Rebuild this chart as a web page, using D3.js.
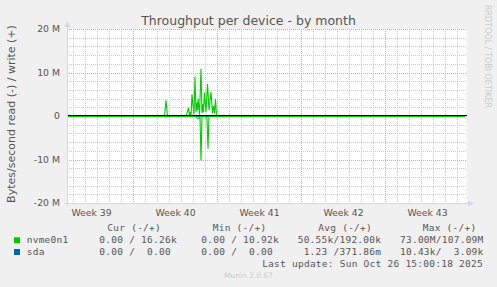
<!DOCTYPE html>
<html>
<head>
<meta charset="utf-8">
<script src="https://cdn.jsdelivr.net/npm/d3@7"></script>
<style>
  html, body { margin: 0; padding: 0; background: #f0f0f0; }
  svg text { font-family: "DejaVu Sans", sans-serif; fill: #555; }
  .mono { font-family: "DejaVu Sans Mono", monospace; font-size: 9.5px; letter-spacing: 0.25px; white-space: pre; }
</style>
</head>
<body>
<div id="chart"></div>
<script>
// ---- data ----
const titleText = "Throughput per device - by month";
const yLabelText = "Bytes/second read (-) / write (+)";
const timeStart = "2025-09-23T12:00:00Z";
const timeEnd = "2025-10-26T20:00:00Z";

const yTicks = [-20e6, -10e6, 0, 10e6, 20e6];
const yTickLabels = ["-20 M", "-10 M", "0", "10 M", "20 M"];
const weekCenters = ["2025-09-25T12:00:00Z", "2025-10-02T12:00:00Z", "2025-10-09T12:00:00Z",
                     "2025-10-16T12:00:00Z", "2025-10-23T12:00:00Z"];
const weekLabels = ["Week 39", "Week 40", "Week 41", "Week 42", "Week 43"];

// nvme0n1 write (+), bytes/s
const nvmeWriteTimes = [
  "2025-09-23T12:00:00Z", "2025-10-01T12:00:00Z", "2025-10-01T15:00:00Z", "2025-10-01T18:00:00Z",
  "2025-10-01T21:00:00Z", "2025-10-03T10:00:00Z", "2025-10-03T15:00:00Z", "2025-10-03T17:00:00Z",
  "2025-10-03T18:00:00Z", "2025-10-03T20:00:00Z", "2025-10-03T22:00:00Z", "2025-10-04T00:00:00Z",
  "2025-10-04T02:00:00Z", "2025-10-04T04:00:00Z", "2025-10-04T06:00:00Z", "2025-10-04T08:00:00Z",
  "2025-10-04T09:00:00Z", "2025-10-04T10:00:00Z", "2025-10-04T13:00:00Z", "2025-10-04T16:00:00Z",
  "2025-10-04T18:00:00Z", "2025-10-04T20:00:00Z", "2025-10-04T21:00:00Z", "2025-10-04T23:00:00Z",
  "2025-10-05T02:00:00Z", "2025-10-05T05:00:00Z", "2025-10-05T08:00:00Z", "2025-10-05T12:00:00Z",
  "2025-10-05T15:00:00Z", "2025-10-05T17:00:00Z", "2025-10-05T19:00:00Z", "2025-10-05T21:00:00Z",
  "2025-10-05T23:00:00Z", "2025-10-06T02:00:00Z", "2025-10-26T15:00:00Z"
];
const nvmeWriteValues = [
  20e3, 20e3, 0.1e6, 3.7e6,
  0.05e6, 20e3, 2.0e6, 0.3e6,
  1.0e6, 0.2e6, 5.1e6, 2.5e6,
  0.5e6, 9.1e6, 1.0e6, 3.2e6,
  1.5e6, 4.1e6, 0.4e6, 11.0e6,
  0.8e6, 2.8e6, 1.0e6, 5.5e6,
  1.0e6, 7.5e6, 1.5e6, 5.6e6,
  0.8e6, 2.4e6, 0.8e6, 4.1e6,
  0.1e6, 20e3, 16e3
];

// nvme0n1 read (-), bytes/s
const nvmeReadTimes = [
  "2025-09-23T12:00:00Z", "2025-10-04T06:00:00Z", "2025-10-04T08:00:00Z", "2025-10-04T12:00:00Z",
  "2025-10-04T14:00:00Z", "2025-10-04T16:00:00Z", "2025-10-04T18:00:00Z", "2025-10-05T02:00:00Z",
  "2025-10-05T04:00:00Z", "2025-10-05T06:00:00Z", "2025-10-05T08:00:00Z", "2025-10-26T15:00:00Z"
];
const nvmeReadValues = [
  0, 0, 0.4e6, 0.4e6,
  0.1e6, 10.1e6, 0, 0,
  0.5e6, 7.4e6, 0, 0
];

// sda (flat)
const sdaTimes = ["2025-09-23T12:00:00Z", "2025-10-26T15:00:00Z"];
const sdaWriteValues = [0, 0];
const sdaReadValues = [0, 0];

// legend
const seriesNames = ["nvme0n1", "sda"];
const curText = ["  0.00 / 16.26k", "  0.00 /  0.00 "];
const minText = ["  0.00 / 10.92k", "  0.00 /  0.00 "];
const avgText = [" 50.55k/192.00k", "  1.23 /371.86m"];
const maxText = [" 73.00M/107.09M", " 10.43k/  3.09k"];
const legendHeaders = ["Cur (-/+)", "Min (-/+)", "Avg (-/+)", "Max (-/+)"];
const lastUpdate = "Last update: Sun Oct 26 15:00:18 2025";
const footer = "Munin 2.0.67";
const watermark = "RRDTOOL / TOBI OETIKER";

// ---- drawing ----
const W = 497, H = 287;
const plot = {left: 67, right: 467, top: 29, bottom: 203};
const colors = ["#00cc00", "#0066b3"];

const svg = d3.select("#chart").append("svg")
    .attr("width", W).attr("height", H);

svg.append("rect").attr("width", W).attr("height", H).attr("fill", "#f0f0f0");
svg.append("rect")
    .attr("x", plot.left).attr("y", plot.top)
    .attr("width", plot.right - plot.left).attr("height", plot.bottom - plot.top)
    .attr("fill", "#ffffff");

const parse = d3.isoParse;
const x = d3.scaleUtc()
    .domain([parse(timeStart), parse(timeEnd)])
    .range([plot.left, plot.right]);
const y = d3.scaleLinear()
    .domain([-20e6, 20e6])
    .range([plot.bottom, plot.top]);

const crisp = v => Math.round(v) + 0.5;

// grid: minor
let grid = svg.append("g");
grid.selectAll(".vmin")
    .data(d3.utcDay.range(x.domain()[0], x.domain()[1]))
    .join("line")
    .attr("x1", d => crisp(x(d))).attr("x2", d => crisp(x(d)))
    .attr("y1", plot.top).attr("y2", plot.bottom)
    .attr("stroke", "#cccccc").attr("stroke-dasharray", "1,1");
grid.selectAll(".hmin")
    .data(d3.range(-20e6, 20e6 + 1, 2e6).filter(v => v % 10e6 !== 0))
    .join("line")
    .attr("x1", plot.left).attr("x2", plot.right)
    .attr("y1", d => crisp(y(d))).attr("y2", d => crisp(y(d)))
    .attr("stroke", "#cccccc").attr("stroke-dasharray", "1,1");

// grid: major
grid.selectAll(".vmaj")
    .data(d3.utcMonday.range(x.domain()[0], x.domain()[1]))
    .join("line")
    .attr("x1", d => crisp(x(d))).attr("x2", d => crisp(x(d)))
    .attr("y1", plot.top).attr("y2", plot.bottom)
    .attr("stroke", "#e6a0a0").attr("stroke-dasharray", "1,1");
grid.selectAll(".hmaj")
    .data(yTicks)
    .join("line")
    .attr("x1", plot.left).attr("x2", plot.right)
    .attr("y1", d => crisp(y(d))).attr("y2", d => crisp(y(d)))
    .attr("stroke", "#e6a0a0").attr("stroke-dasharray", "1,1");

// series
function mkPoints(times, values, sign) {
    return times.map((t, i) => ({t: parse(t), v: sign * values[i]}));
}
let line = d3.line()
    .x(d => x(d.t))
    .y(d => y(d.v) + 0.5);

let seriesData = [
    {pts: mkPoints(sdaTimes, sdaReadValues, -1), c: colors[1]},
    {pts: mkPoints(sdaTimes, sdaWriteValues, 1), c: colors[1]},
    {pts: mkPoints(nvmeReadTimes, nvmeReadValues, -1), c: colors[0]},
    {pts: mkPoints(nvmeWriteTimes, nvmeWriteValues, 1), c: colors[0]}
];
svg.append("g").selectAll("path")
    .data(seriesData)
    .join("path")
    .attr("d", d => line(d.pts))
    .attr("fill", "none")
    .attr("stroke", d => d.c)
    .attr("stroke-width", 1.1);

// zero rule
svg.append("line")
    .attr("x1", plot.left).attr("x2", plot.right)
    .attr("y1", crisp(y(0)) - 1).attr("y2", crisp(y(0)) - 1)
    .attr("stroke", "#000").attr("stroke-width", 1);

// axes lines + arrows
const axisColor = "#cfd6f8";
svg.append("line")
    .attr("x1", plot.left + 0.5).attr("x2", plot.left + 0.5)
    .attr("y1", plot.bottom + 3).attr("y2", plot.top - 4)
    .attr("stroke", axisColor);
svg.append("line")
    .attr("x1", plot.left - 3).attr("x2", plot.right + 3)
    .attr("y1", plot.bottom + 0.5).attr("y2", plot.bottom + 0.5)
    .attr("stroke", axisColor);
svg.append("path")
    .attr("d", `M${plot.left - 2.5},${plot.top - 2} L${plot.left + 0.5},${plot.top - 8} L${plot.left + 3.5},${plot.top - 2} Z`)
    .attr("fill", axisColor);
svg.append("path")
    .attr("d", `M${plot.right + 1},${plot.bottom - 2.5} L${plot.right + 7},${plot.bottom + 0.5} L${plot.right + 1},${plot.bottom + 3.5} Z`)
    .attr("fill", axisColor);

// y tick labels
let yaxis = svg.append("g")
    .attr("transform", "translate(" + plot.left + ",0)")
    .call(d3.axisLeft(y).tickValues(yTicks).tickSize(0).tickPadding(7)
        .tickFormat((d, i) => yTickLabels[i]));
yaxis.select(".domain").remove();
yaxis.selectAll("text").attr("font-size", 9.3).attr("font-family", "DejaVu Sans").attr("fill", "#555");

// x tick labels
const weekScale = weekCenters.map(parse);
let xaxis = svg.append("g")
    .attr("transform", "translate(0," + plot.bottom + ")")
    .call(d3.axisBottom(x).tickValues(weekScale).tickSize(0).tickPadding(6)
        .tickFormat((d, i) => weekLabels[i]));
xaxis.select(".domain").remove();
xaxis.selectAll("text").attr("font-size", 9.3).attr("font-family", "DejaVu Sans").attr("fill", "#555");

// title
svg.append("text")
    .text(titleText)
    .attr("x", W / 2).attr("y", 24.5)
    .attr("text-anchor", "middle")
    .attr("font-size", 12.5);

// y label
svg.append("text")
    .text(yLabelText)
    .attr("transform", "translate(14.5," + ((plot.top + plot.bottom) / 2 - 2) + ")rotate(-90)")
    .attr("text-anchor", "middle")
    .attr("font-size", 11);

// watermark
svg.append("text")
    .text(watermark)
    .attr("transform", "translate(485,5)rotate(90)")
    .attr("font-size", 8)
    .style("fill", "#cccccc");

// legend
let legend = svg.append("g");
const headerX = [107.3, 212.7, 318.3, 422.7];
legend.selectAll(".hdr")
    .data(legendHeaders)
    .join("text")
    .attr("class", "mono")
    .attr("x", (d, i) => headerX[i]).attr("y", 230.7)
    .text(d => d);

const rowY = [243.3, 255];
const colX = [87.4, 189.4, 291.7, 394];
seriesNames.forEach((name, i) => {
    legend.append("rect")
        .attr("x", 14).attr("y", rowY[i] - 6)
        .attr("width", 6).attr("height", 6)
        .attr("fill", colors[i]);
    legend.append("text").attr("class", "mono")
        .attr("x", 26.7).attr("y", rowY[i]).text(name);
    [curText[i], minText[i], avgText[i], maxText[i]].forEach((s, j) => {
        legend.append("text").attr("class", "mono")
            .attr("xml:space", "preserve")
            .attr("x", colX[j]).attr("y", rowY[i]).text(s);
    });
});

legend.append("text").attr("class", "mono")
    .attr("x", 483).attr("y", 267)
    .attr("text-anchor", "end")
    .text(lastUpdate);

svg.append("text")
    .text(footer)
    .attr("x", W / 2).attr("y", 278)
    .attr("text-anchor", "middle")
    .attr("font-size", 7.5)
    .style("fill", "#cccccc");
</script>
</body>
</html>
